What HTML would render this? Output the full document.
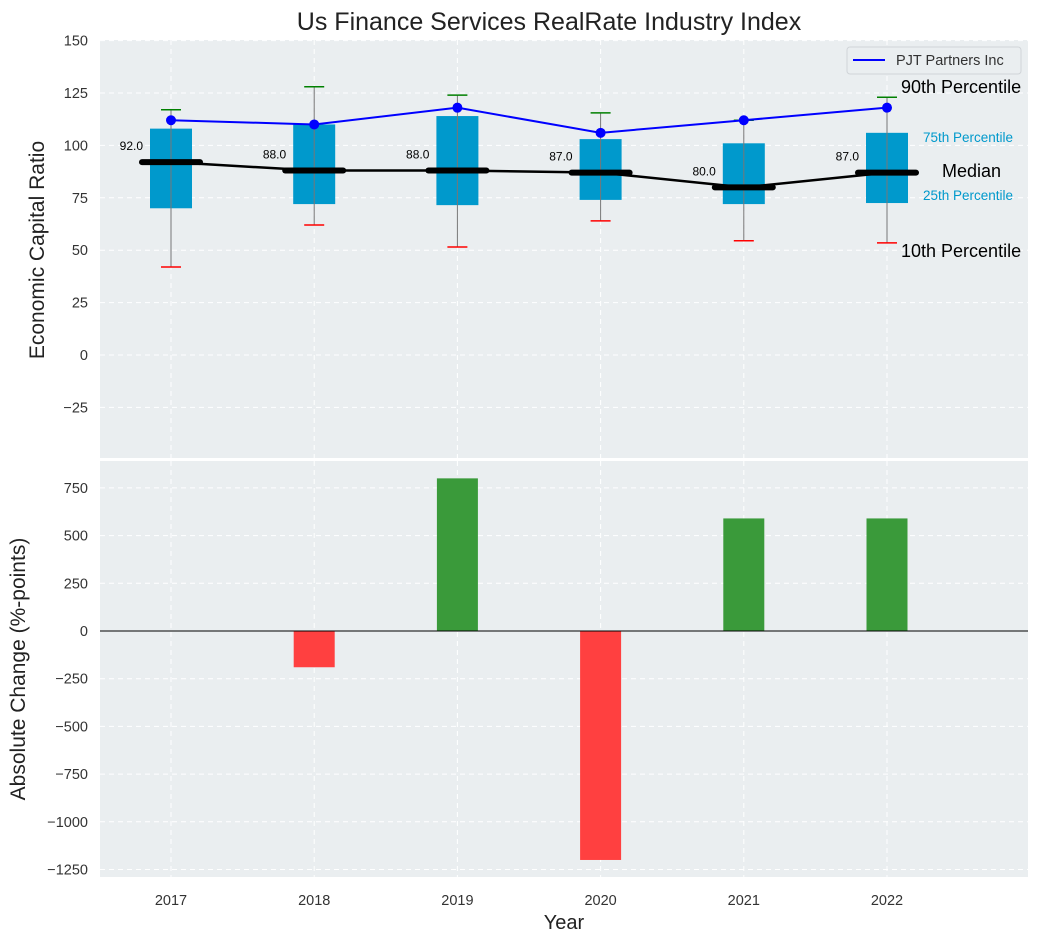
<!DOCTYPE html>
<html><head><meta charset="utf-8"><style>
body{margin:0;background:#fff;}
svg{font-family:"Liberation Sans","DejaVu Sans",sans-serif;}
</style></head><body>
<svg id="c" width="1039" height="942" xmlns="http://www.w3.org/2000/svg">
<text x="549" y="30" font-size="25" text-anchor="middle" fill="#222">Us Finance Services RealRate Industry Index</text>
<rect x="100" y="40" width="928" height="418" fill="#eaeef0"/>
<rect x="100" y="461" width="928" height="416" fill="#eaeef0"/>
<g id="topg"></g><g id="botg"></g>
<text x="44" y="250" font-size="21" fill="#222" text-anchor="middle" transform="rotate(-90 44 250)">Economic Capital Ratio</text>
<text x="25" y="669" font-size="21" fill="#222" text-anchor="middle" transform="rotate(-90 25 669)">Absolute Change (%-points)</text>
<text x="564" y="929" font-size="20" fill="#222" text-anchor="middle">Year</text>
<g>
<rect x="847" y="47" width="174" height="27" rx="3" fill="#eaeef0" stroke="#d0d4d8"/>
<line x1="853" y1="60" x2="885" y2="60" stroke="#0000ff" stroke-width="2"/>
<text x="896" y="65" font-size="14.5" fill="#333">PJT Partners Inc</text>
</g>
<text x="901" y="93" font-size="18" fill="#000">90th Percentile</text>
<text x="923" y="142" font-size="13.5" fill="#0099cc">75th Percentile</text>
<text x="942" y="177" font-size="18" fill="#000">Median</text>
<text x="923" y="200" font-size="13.5" fill="#0099cc">25th Percentile</text>
<text x="901" y="257" font-size="18" fill="#000">10th Percentile</text>
</svg>
<script>
const years=[2017,2018,2019,2020,2021,2022];
const q1=[70,72,71.5,74,72,72.5];
const q3=[108,110,114,103,101,106];
const p10=[42,62,51.5,64,54.5,53.5];
const p90=[117,128,124,115.5,112,123];
const medians=[92,88,88,87,80,87];
const company=[112,110,118,106,112,118];
const changes=[0,-190,800,-1200,590,590];
const topTicks=[150,125,100,75,50,25,0,-25];
const botTicks=[750,500,250,0,-250,-500,-750,-1000,-1250];
const NS="http://www.w3.org/2000/svg";
function X(i){return 171+i*143.2;}
function YT(v){return 355-v*52.4/25;}
function YB(v){return 631-v*47.7/250;}
function mk(p,t,a){const e=document.createElementNS(NS,t);for(const k in a)e.setAttribute(k,a[k]);p.appendChild(e);return e;}
const tg=document.getElementById('topg'),bg=document.getElementById('botg');
topTicks.forEach(v=>{
 const l=mk(tg,'line',{x1:100,x2:1028,y1:YT(v),y2:YT(v),stroke:'#fff','stroke-dasharray':'5,4'});
 
 
 const t=mk(tg,'text',{x:88,y:YT(v)+5,'font-size':14.5,fill:'#333','text-anchor':'end'});t.textContent=v<0?'\u2212'+(-v):v;
 
 
});
botTicks.forEach(v=>{
 const l=mk(bg,'line',{x1:100,x2:1028,y1:YB(v),y2:YB(v),stroke:'#fff','stroke-dasharray':'5,4'});
 
 
 const t=mk(bg,'text',{x:88,y:YB(v)+5,'font-size':14.5,fill:'#333','text-anchor':'end'});t.textContent=v<0?'\u2212'+(-v):v;
 
 
});
years.forEach((y,i)=>{
 mk(tg,'line',{x1:X(i),x2:X(i),y1:40,y2:458,stroke:'#fff','stroke-dasharray':'5,4'});
 mk(bg,'line',{x1:X(i),x2:X(i),y1:461,y2:877,stroke:'#fff','stroke-dasharray':'5,4'});
 const t=mk(bg,'text',{x:X(i),y:905,'font-size':14.5,fill:'#333','text-anchor':'middle'});t.textContent=y;
 
 
});
years.forEach((y,i)=>{
 const b=mk(tg,'rect',{x:X(i)-21,y:YT(q3[i]),width:42,height:YT(q1[i])-YT(q3[i]),fill:'#0099cc'});
 
 
 mk(tg,'line',{x1:X(i),x2:X(i),y1:YT(p10[i]),y2:YT(p90[i]),stroke:'#777','stroke-width':1});
 const h=mk(tg,'line',{x1:X(i)-10,x2:X(i)+10,y1:YT(p90[i]),y2:YT(p90[i]),stroke:'green','stroke-width':1.5});
 
 
 const lo=mk(tg,'line',{x1:X(i)-10,x2:X(i)+10,y1:YT(p10[i]),y2:YT(p10[i]),stroke:'red','stroke-width':1.5});
 
 
});
let mp='';years.forEach((y,i)=>{mp+=(i?'L':'M')+X(i)+','+YT(medians[i]);});
const ml=mk(tg,'path',{d:mp,stroke:'#000','stroke-width':2.5,fill:'none'});


years.forEach((y,i)=>{
 const m=mk(tg,'line',{x1:X(i)-29,x2:X(i)+29,y1:YT(medians[i]),y2:YT(medians[i]),stroke:'#000','stroke-width':6,'stroke-linecap':'round'});
 
 
 const t=mk(tg,'text',{x:X(i)-28,y:YT(medians[i])-12,'font-size':12,fill:'#000','text-anchor':'end'});t.textContent=medians[i].toFixed(1);
 
 
});
let cp='';years.forEach((y,i)=>{cp+=(i?'L':'M')+X(i)+','+YT(company[i]);});
const cl=mk(tg,'path',{d:cp,stroke:'#0000ff','stroke-width':2,fill:'none'});


years.forEach((y,i)=>{
 const c=mk(tg,'circle',{cx:X(i),cy:YT(company[i]),r:5,fill:'#0000ff'});
 
 
});
years.forEach((y,i)=>{
 const v=changes[i];if(v===0)return;
 const b=mk(bg,'rect',{x:X(i)-20.5,y:Math.min(YB(v),YB(0)),width:41,height:Math.abs(YB(v)-YB(0)),fill:v>0?'#3a9a3a':'#ff4040'});
 
 
});
const z=mk(bg,'line',{x1:100,x2:1028,y1:YB(0),y2:YB(0),stroke:'#000','stroke-width':1});


</script>
</body></html>
